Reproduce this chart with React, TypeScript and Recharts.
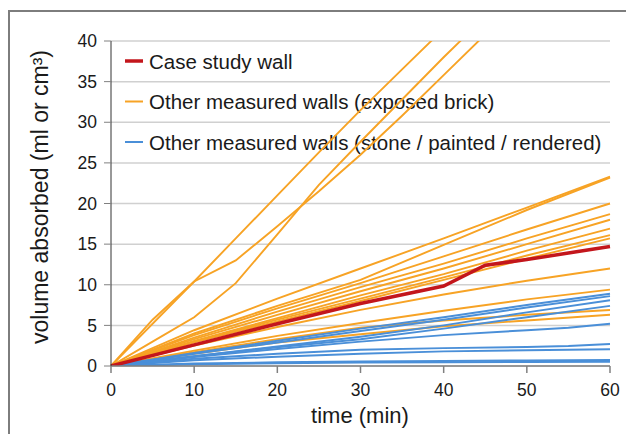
import React from 'react';
import { LineChart, Line, XAxis, YAxis, CartesianGrid, Legend } from 'recharts';

const FONT = '"Liberation Sans", Arial, sans-serif';

const ORANGE = '#f7a325';
const BLUE = '#4a8fd8';
const RED = '#c3161c';

const X_TICKS = [0, 10, 20, 30, 40, 50, 60];
const Y_TICKS = [0, 5, 10, 15, 20, 25, 30, 35, 40];

// case study wall: [time, volume]
const caseStudy = [[0, 0], [10, 2.6], [20, 5.2], [30, 7.7], [40, 9.85], [45, 12.4], [50, 13.1], [55, 13.9], [60, 14.7]];

// exposed brick walls
const brickWalls = [
  [[0, 0], [5, 5.7], [10, 10.4], [15, 15.7], [20, 21], [25, 26.3], [30, 31.5], [35, 36.5], [40, 41.5]],
  [[0, 0], [10, 10.4], [15, 13], [20, 17.2], [25, 21.5], [30, 26], [35, 30.8], [40, 35.8], [45, 40.8]],
  [[0, 0], [5, 3], [10, 6], [15, 10.2], [20, 16.2], [25, 22.3], [30, 27.6], [35, 32.8], [40, 38], [45, 43]],
  [[0, 0], [10, 4.4], [20, 8.3], [30, 12.0], [40, 15.7], [50, 19.5], [60, 23.3]],
  [[0, 0], [10, 4.0], [20, 7.4], [30, 10.6], [40, 14.9], [50, 19.2], [60, 23.2]],
  [[0, 0], [10, 3.8], [20, 7.1], [30, 10.2], [40, 13.5], [50, 16.8], [60, 20.0]],
  [[0, 0], [10, 3.5], [20, 6.7], [30, 9.7], [40, 12.6], [50, 15.7], [60, 18.7]],
  [[0, 0], [10, 3.3], [20, 6.3], [30, 9.2], [40, 12.0], [50, 15.0], [60, 18.0]],
  [[0, 0], [10, 3.1], [20, 5.9], [30, 8.7], [40, 11.3], [50, 14.2], [60, 16.9]],
  [[0, 0], [10, 3.0], [20, 5.7], [30, 8.3], [40, 10.9], [50, 13.6], [60, 16.1]],
  [[0, 0], [10, 2.9], [20, 5.5], [30, 8.0], [40, 10.6], [50, 13.2], [60, 15.7]],
  [[0, 0], [10, 2.5], [20, 4.8], [30, 6.9], [40, 8.8], [50, 10.5], [60, 12.0]],
  [[0, 0], [10, 1.9], [20, 3.7], [30, 5.3], [40, 6.8], [50, 8.2], [60, 9.4]],
  [[0, 0], [10, 1.7], [20, 3.3], [30, 4.7], [40, 5.6], [50, 6.3], [60, 6.9]],
  [[0, 0], [10, 1.5], [20, 2.9], [30, 3.9], [40, 4.9], [50, 5.6], [60, 6.3]],
];

// stone / painted / rendered walls
const otherWalls = [
  [[0, 0], [10, 1.6], [20, 3.1], [30, 4.6], [40, 6.0], [50, 7.5], [60, 8.9]],
  [[0, 0], [10, 1.5], [20, 2.9], [30, 4.3], [40, 5.7], [50, 7.2], [60, 8.6]],
  [[0, 0], [10, 1.2], [20, 2.4], [30, 3.6], [40, 5.0], [50, 6.6], [60, 8.1]],
  [[0, 0], [10, 1.2], [20, 2.3], [30, 3.3], [40, 4.6], [50, 6.0], [60, 7.4]],
  [[0, 0], [10, 1.1], [20, 2.1], [30, 3.0], [40, 3.8], [50, 4.4], [55, 4.7], [60, 5.2]],
  [[0, 0], [10, 0.9], [20, 1.5], [30, 2.0], [40, 2.2], [50, 2.35], [55, 2.45], [60, 2.7]],
  [[0, 0], [10, 0.7], [20, 1.15], [30, 1.5], [40, 1.8], [50, 1.95], [60, 2.05]],
  [[0, 0], [10, 0.3], [20, 0.45], [30, 0.55], [40, 0.62], [50, 0.68], [60, 0.74]],
  [[0, 0], [10, 0.2], [20, 0.35], [30, 0.42], [40, 0.47], [50, 0.5], [60, 0.53]],
];

const LEGEND = [
  { label: 'Case study wall', color: RED, width: 3.5 },
  { label: 'Other measured walls (exposed brick)', color: ORANGE, width: 2 },
  { label: 'Other measured walls (stone / painted / rendered)', color: BLUE, width: 2 },
];

const toRows = (pts: number[][]) => pts.map(([t, v]) => ({ t, v }));

const LegendBox = () => (
  <svg width={510} height={125} style={{ display: 'block', overflow: 'visible' }}>
    {LEGEND.map((item, i) => {
      const y = 23 + i * 40.5;
      return (
        <g key={item.label}>
          <line x1={7} x2={25} y1={y} y2={y} stroke={item.color} strokeWidth={item.width} />
          <text x={31} y={y} dominantBaseline="central" fontSize={20.5} fontFamily={FONT} fill="#1a1a1a">
            {item.label}
          </text>
        </g>
      );
    })}
  </svg>
);

const YTitle = () => (
  <text x={32} y={189} transform="rotate(-90, 32, 189)" textAnchor="middle" dominantBaseline="central"
    fontSize={23} fontFamily={FONT} fill="#1a1a1a">
    volume absorbed (ml or cm³)
  </text>
);

const XTitle = () => (
  <text x={352} y={415} textAnchor="middle" fontSize={22} fontFamily={FONT} fill="#1a1a1a">
    time (min)
  </text>
);

const App = () => {
  return (
    <div style={{ position: 'relative', width: 626, height: 426 }}>
      <div style={{ position: 'absolute', left: 0, top: 2, width: 624, height: 422, borderTop: '2px solid #7d7d7d', borderLeft: '2px solid #7d7d7d' }} />
      <LineChart width={626} height={426} margin={{ top: 33, right: 24, left: 0, bottom: 0 }}>
        <CartesianGrid vertical={false} stroke="#d0d0d0" strokeWidth={1.5} />
        <XAxis dataKey="t" type="number" domain={[0, 60]} ticks={X_TICKS} height={68}
          stroke="#808080" strokeWidth={1.5} tickSize={7} tickMargin={11}
          tick={{ fontSize: 17.5, fontFamily: FONT, fill: '#1a1a1a' }} label={<XTitle />} />
        <YAxis type="number" domain={[0, 40]} ticks={Y_TICKS} allowDataOverflow width={103}
          stroke="#333" tickSize={7} tickMargin={7}
          tickLine={{ stroke: '#808080' }}
          tick={{ fontSize: 17.5, fontFamily: FONT, fill: '#1a1a1a' }} label={<YTitle />} />
        <Legend layout="horizontal" verticalAlign="middle" align="center" content={() => <LegendBox />}
          wrapperStyle={{ left: 110, top: 30, width: 510, zIndex: -1 }} />
        {brickWalls.map((pts, i) => (
          <Line key={`b${i}`} data={toRows(pts)} dataKey="v" stroke={ORANGE} strokeWidth={1.9}
            dot={false} activeDot={false} isAnimationActive={false} legendType="none" />
        ))}
        {otherWalls.map((pts, i) => (
          <Line key={`o${i}`} data={toRows(pts)} dataKey="v" stroke={BLUE} strokeWidth={2}
            dot={false} activeDot={false} isAnimationActive={false} legendType="none" />
        ))}
        <Line data={toRows(caseStudy)} dataKey="v" stroke={RED} strokeWidth={3.5}
          dot={false} activeDot={false} isAnimationActive={false} legendType="none" />
      </LineChart>
    </div>
  );
};

export default App;
